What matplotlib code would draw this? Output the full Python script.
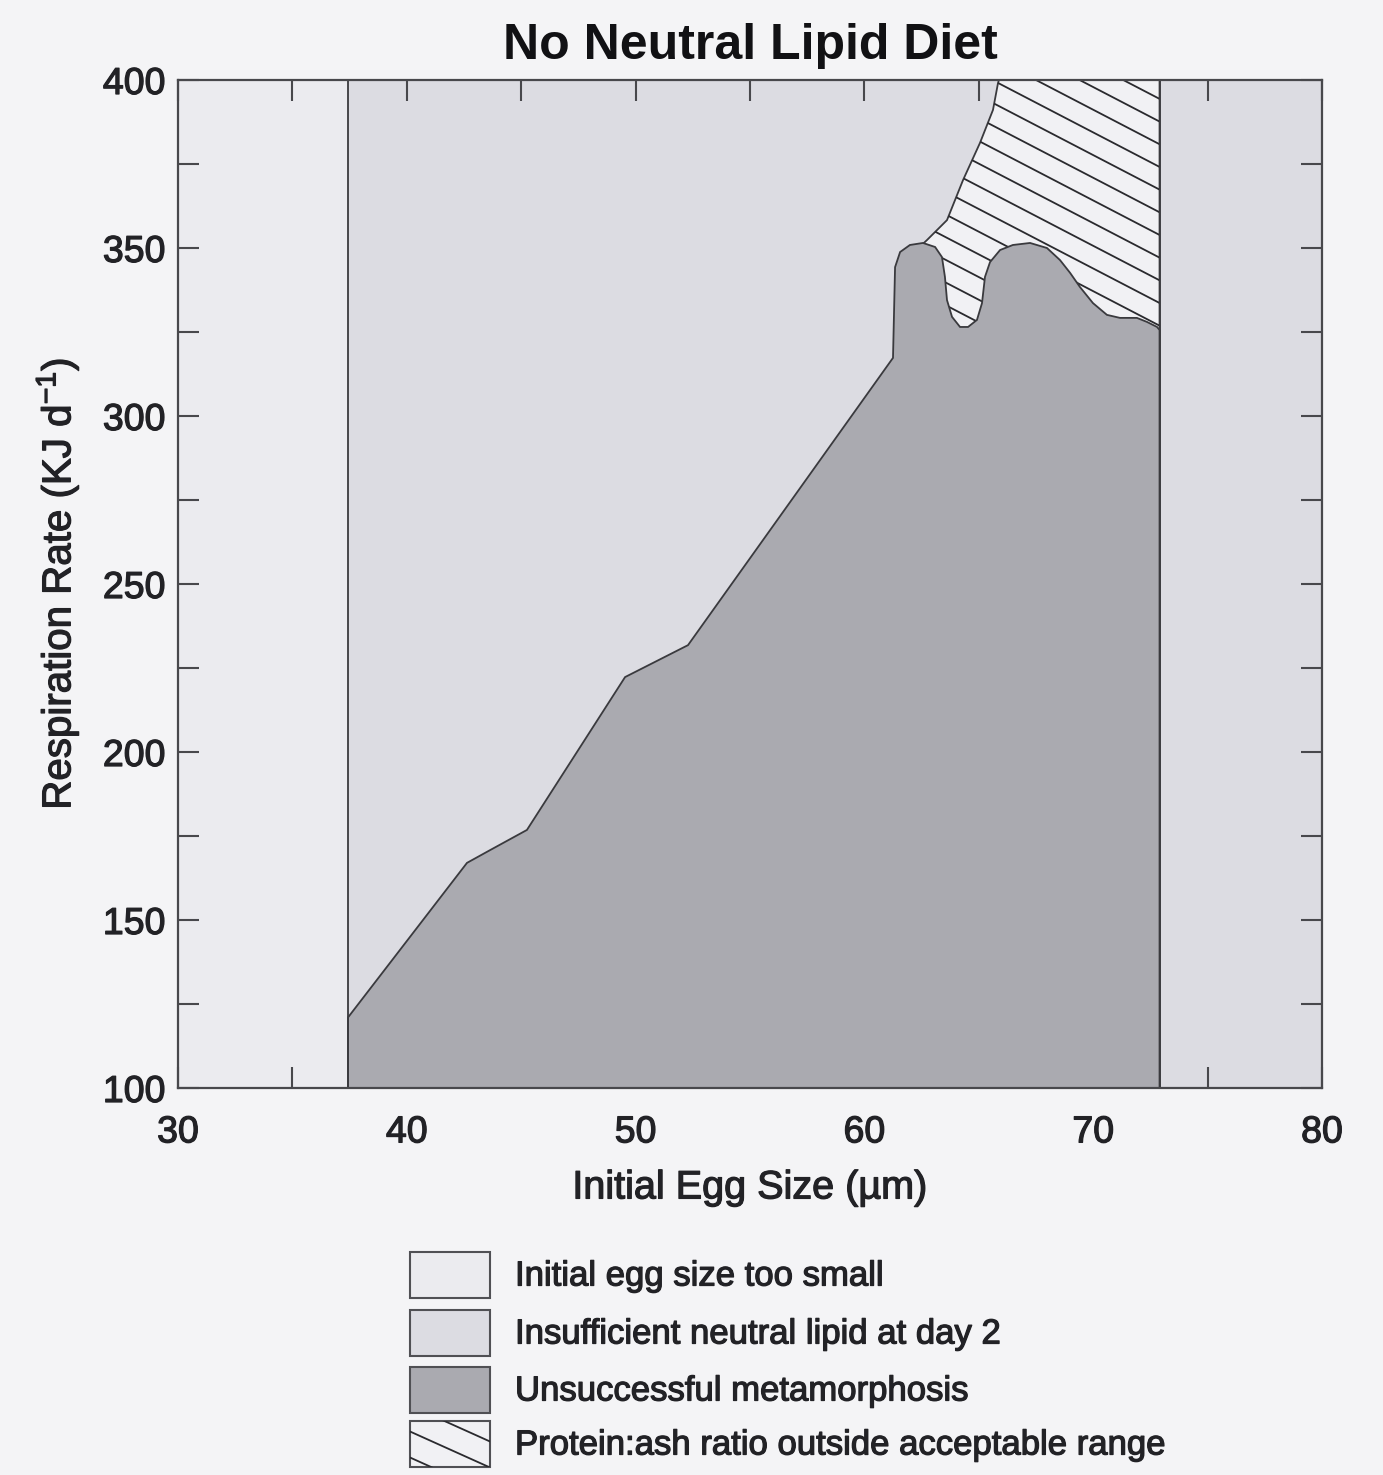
import numpy as np
import matplotlib
matplotlib.use("Agg")
import matplotlib.pyplot as plt
import matplotlib.patheffects as pe
from matplotlib.patches import Polygon, Rectangle
from matplotlib.collections import LineCollection

plt.rcParams["font.family"] = ["Liberation Sans", "DejaVu Sans"]
plt.rcParams["mathtext.default"] = "regular"

# Model outcome regions in (initial egg size, respiration rate) space
x_range = [30, 80]
y_range = [100, 400]
egg_min = 37.43   # eggs smaller than this fail immediately
egg_max = 72.9    # upper limit of the modelled egg sizes

# Upper boundary of the "unsuccessful metamorphosis" region
meta_x = [37.43, 42.63, 43.64, 45.25, 49.54, 52.29, 61.25, 61.34, 61.56, 61.99,
          62.56, 63.09, 63.39, 63.52, 63.61, 63.83, 64.18, 64.53, 64.92, 65.14,
          65.27, 65.49, 65.93, 66.49, 67.24, 67.98, 68.55, 68.99, 69.42, 69.99,
          70.60, 71.17, 71.91, 72.35, 72.79, 72.9]
meta_y = [121.0, 167.0, 170.8, 176.8, 222.3, 231.8, 317.3, 344.3, 348.8, 350.9,
          351.5, 350.3, 347.3, 341.4, 334.5, 329.5, 326.5, 326.5, 328.6, 333.6,
          341.4, 345.8, 349.4, 350.9, 351.5, 350.0, 346.4, 342.6, 338.4, 333.6,
          330.1, 329.2, 329.2, 328.0, 326.5, 325.6]

# Lower-left boundary of the protein:ash failure region
ash_x = [62.6, 62.74, 63.61, 64.31, 65.05, 65.62, 65.84, 65.88]
ash_y = [351.5, 352.4, 358.3, 370.2, 381.25, 391.1, 399.1, 400.0]

legend_labels = ["Initial egg size too small",
                 "Insufficient neutral lipid at day 2",
                 "Unsuccessful metamorphosis",
                 "Protein:ash ratio outside acceptable range"]

x_ticks = [30, 40, 50, 60, 70, 80]
y_ticks = [100, 150, 200, 250, 300, 350, 400]

c_bg = "#f4f4f6"
c_small = "#ebebef"
c_lipid = "#dcdce2"
c_meta = "#aaaab0"
c_ash = "#f1f1f4"
c_line = "#3a3a3e"
c_text = "#222226"

# slightly heavier strokes for the regular-weight text
heavy = [pe.withStroke(linewidth=0.9, foreground=c_text)]

fig = plt.figure(figsize=(13.83, 14.75), dpi=100, facecolor=c_bg)
ax = fig.add_axes([178 / 1383, 1 - 1088 / 1475, 1144 / 1383, 1008 / 1475])
ax.set_xlim(*x_range)
ax.set_ylim(*y_range)
ax.set_facecolor(c_small)

# Background regions
ax.axvspan(egg_min, x_range[1], color=c_lipid, lw=0, zorder=1)

# Protein:ash region (lower part is covered by the metamorphosis polygon)
ash_poly = list(zip(ash_x, ash_y)) + [(egg_max, y_range[1]), (egg_max, y_range[0]),
                                       (ash_x[0], y_range[0])]
ash_patch = Polygon(ash_poly, closed=True, facecolor=c_ash, edgecolor=c_line,
                    lw=1.3, zorder=2)
ax.add_patch(ash_patch)

# Custom shallow hatching, clipped to the protein:ash region
slope = -0.59
offsets = np.arange(-0.2, 1.8, 0.0225)
segs = [[(0, c), (1, c + slope)] for c in offsets]
hatch = LineCollection(segs, colors="#2a2a2e", linewidths=1.3,
                       transform=ax.transAxes, zorder=2.5)
ax.add_collection(hatch)
hatch.set_clip_path(ash_patch)

# Unsuccessful metamorphosis region
meta_poly = list(zip(meta_x, meta_y)) + [(egg_max, y_range[0]), (egg_min, y_range[0])]
ax.add_patch(Polygon(meta_poly, closed=True, facecolor=c_meta, edgecolor=c_line,
                     lw=1.3, zorder=3))

ax.axvline(egg_min, color=c_line, lw=1.3, zorder=4)
ax.axvline(egg_max, color=c_line, lw=1.3, zorder=4)

# Axes styling
for s in ax.spines.values():
    s.set_linewidth(1.6)
    s.set_color("#48484c")
    s.set_zorder(5)
ax.set_xticks(x_ticks)
ax.set_yticks(y_ticks)
ax.set_xticks(np.arange(30, 81, 5), minor=True)
ax.set_yticks(np.arange(100, 401, 25), minor=True)
ax.tick_params(which="both", direction="in", top=True, right=True,
               length=15, width=1.5, color="#48484c")
ax.tick_params(axis="x", which="major", labelsize=27, pad=19)
ax.tick_params(axis="y", which="major", labelsize=27, pad=9)
for t in ax.get_xticklabels() + ax.get_yticklabels():
    t.set_color(c_text)
    t.set_path_effects(heavy)

xl = ax.set_xlabel("Initial Egg Size (\u00b5m)", fontsize=28.5, labelpad=13, color=c_text)
yl = ax.set_ylabel("Respiration Rate (KJ d$^{-1}$)", fontsize=29, labelpad=16, color=c_text)
xl.set_path_effects(heavy)
yl.set_path_effects(heavy)
ax.set_title("No Neutral Lipid Diet", fontsize=36, fontweight="bold", pad=15,
             color="#111114")

# Legend drawn in figure pixel space
lg = fig.add_axes([0, 0, 1, 1], facecolor="none")
lg.set_xlim(0, 1383)
lg.set_ylim(1475, 0)
lg.axis("off")
box_fills = [c_small, c_lipid, c_meta, c_ash]
box_tops = [1252, 1310, 1367, 1421]
boxes = []
for fill, top, label in zip(box_fills, box_tops, legend_labels):
    r = Rectangle((410, top), 80, 46, facecolor=fill, edgecolor="#505054", lw=1.5)
    lg.add_patch(r)
    boxes.append(r)
    lg.text(515, top + 24, label, fontsize=25, va="center", ha="left",
            color=c_text, path_effects=heavy)
lsegs = [[(380, c), (520, c + 0.45 * 140)] for c in np.arange(1340, 1480, 26)]
lh = LineCollection(lsegs, colors="#2a2a2e", linewidths=1.3, transform=lg.transData)
lg.add_collection(lh)
lh.set_clip_path(Polygon(boxes[-1].get_verts(), closed=True, transform=None))

fig.savefig("out.png", dpi=100, facecolor=c_bg)
